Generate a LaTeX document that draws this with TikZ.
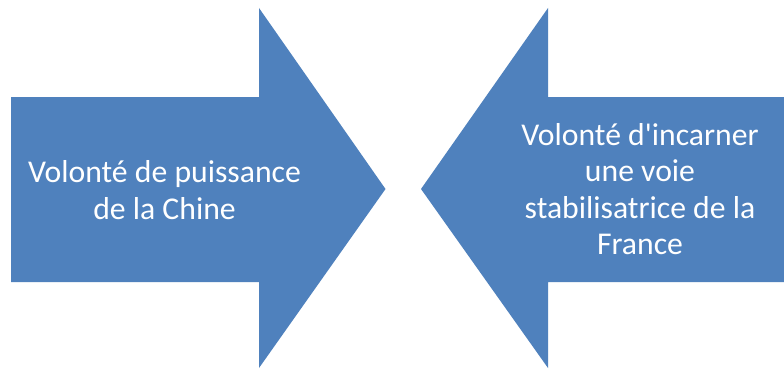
\documentclass[tikz,border=0pt]{standalone}
\usepackage{fontspec}
\setmainfont{Carlito}
\definecolor{arrowblue}{HTML}{4F81BD}
\begin{document}
\begin{tikzpicture}[x=1pt,y=-1pt,
  bigarrow/.style={fill=arrowblue,draw=none},
  label/.style={text=white,align=center,font=\fontsize{31.7}{36.3}\selectfont,inner sep=0pt}]
\useasboundingbox (0,0) rectangle (784,369);
\fill[white] (0,0) rectangle (784,369);
\path[bigarrow] (11,97) -- (259,97) -- (259,8) -- (385.5,189) -- (259,368) -- (259,282) -- (11,282) -- cycle;
\path[bigarrow] (784,97) -- (548,97) -- (548,8) -- (421,189) -- (548,368) -- (548,282) -- (784,282) -- cycle;
\node[label] (left) at (164.5,190) {Volonté de puissance\\de la Chine};
\node[label] (right) at (640,189) {Volonté d\textquotesingle incarner\\une voie\\stabilisatrice de la\\France};
\end{tikzpicture}
\end{document}
